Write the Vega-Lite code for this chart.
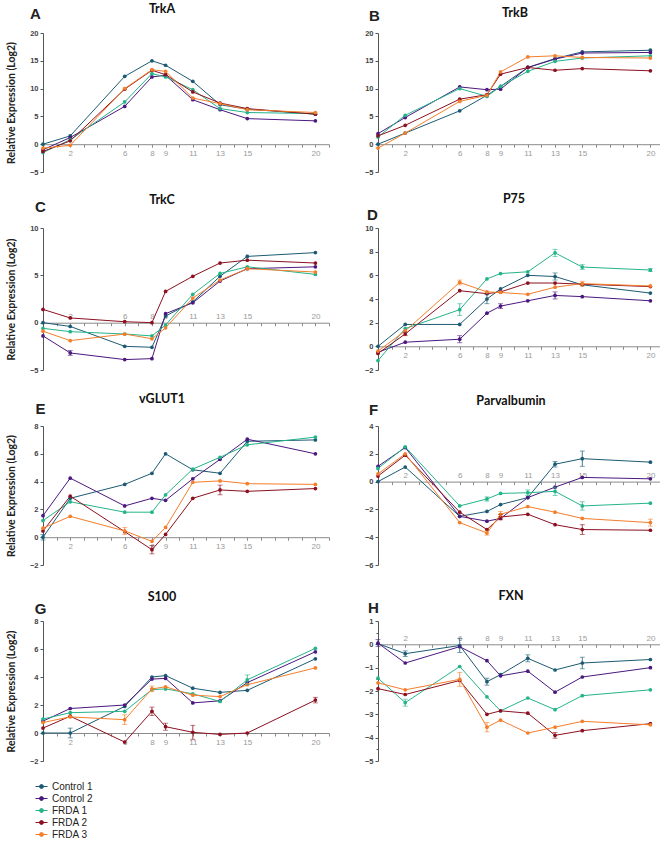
{
"$schema":"https://vega.github.io/schema/vega-lite/v6.json",
"padding":{"left":6,"top":3,"right":0,"bottom":0},
"config":{"view":{"stroke":null},"axis":{"grid":false},"title":{"font":"Lato","fontSize":12.5,"fontWeight":"bold","color":"#111","baseline":"middle","frame":"group","anchor":"middle"}},
"datasets":{"expr":[
{"g":"TrkA","s":"Control 1","d":0,"v":0},{"g":"TrkA","s":"Control 1","d":2,"v":1.5},{"g":"TrkA","s":"Control 1","d":6,"v":12.2},{"g":"TrkA","s":"Control 1","d":8,"v":15.0},{"g":"TrkA","s":"Control 1","d":9,"v":14.2},{"g":"TrkA","s":"Control 1","d":11,"v":11.3},{"g":"TrkA","s":"Control 1","d":13,"v":7.1},{"g":"TrkA","s":"Control 1","d":15,"v":6.3},{"g":"TrkA","s":"Control 1","d":20,"v":5.4},
{"g":"TrkA","s":"Control 2","d":0,"v":-1.0},{"g":"TrkA","s":"Control 2","d":2,"v":1.2},{"g":"TrkA","s":"Control 2","d":6,"v":6.8},{"g":"TrkA","s":"Control 2","d":8,"v":12.1},{"g":"TrkA","s":"Control 2","d":9,"v":12.4},{"g":"TrkA","s":"Control 2","d":11,"v":8.0},{"g":"TrkA","s":"Control 2","d":13,"v":6.2},{"g":"TrkA","s":"Control 2","d":15,"v":4.6},{"g":"TrkA","s":"Control 2","d":20,"v":4.2},
{"g":"TrkA","s":"FRDA 1","d":0,"v":-1.5},{"g":"TrkA","s":"FRDA 1","d":2,"v":0.8},{"g":"TrkA","s":"FRDA 1","d":6,"v":7.6},{"g":"TrkA","s":"FRDA 1","d":8,"v":12.7},{"g":"TrkA","s":"FRDA 1","d":9,"v":12.1},{"g":"TrkA","s":"FRDA 1","d":11,"v":9.8},{"g":"TrkA","s":"FRDA 1","d":13,"v":6.4},{"g":"TrkA","s":"FRDA 1","d":15,"v":5.7},{"g":"TrkA","s":"FRDA 1","d":20,"v":5.5},
{"g":"TrkA","s":"FRDA 2","d":0,"v":-1.3},{"g":"TrkA","s":"FRDA 2","d":2,"v":0.6},{"g":"TrkA","s":"FRDA 2","d":6,"v":9.9},{"g":"TrkA","s":"FRDA 2","d":8,"v":13.3},{"g":"TrkA","s":"FRDA 2","d":9,"v":12.5},{"g":"TrkA","s":"FRDA 2","d":11,"v":9.4},{"g":"TrkA","s":"FRDA 2","d":13,"v":7.4},{"g":"TrkA","s":"FRDA 2","d":15,"v":6.4},{"g":"TrkA","s":"FRDA 2","d":20,"v":5.4},
{"g":"TrkA","s":"FRDA 3","d":0,"v":-0.7},{"g":"TrkA","s":"FRDA 3","d":2,"v":-0.2},{"g":"TrkA","s":"FRDA 3","d":6,"v":10.0},{"g":"TrkA","s":"FRDA 3","d":8,"v":13.4},{"g":"TrkA","s":"FRDA 3","d":9,"v":13.1},{"g":"TrkA","s":"FRDA 3","d":11,"v":8.3},{"g":"TrkA","s":"FRDA 3","d":13,"v":7.3},{"g":"TrkA","s":"FRDA 3","d":15,"v":6.2},{"g":"TrkA","s":"FRDA 3","d":20,"v":5.7},

{"g":"TrkB","s":"Control 1","d":0,"v":0},{"g":"TrkB","s":"Control 1","d":2,"v":2.0},{"g":"TrkB","s":"Control 1","d":6,"v":6.0},{"g":"TrkB","s":"Control 1","d":8,"v":8.8},{"g":"TrkB","s":"Control 1","d":9,"v":10.4},{"g":"TrkB","s":"Control 1","d":11,"v":13.8},{"g":"TrkB","s":"Control 1","d":13,"v":15.4},{"g":"TrkB","s":"Control 1","d":15,"v":16.6},{"g":"TrkB","s":"Control 1","d":20,"v":16.9},
{"g":"TrkB","s":"Control 2","d":0,"v":1.9},{"g":"TrkB","s":"Control 2","d":2,"v":4.8},{"g":"TrkB","s":"Control 2","d":6,"v":10.3},{"g":"TrkB","s":"Control 2","d":8,"v":9.8},{"g":"TrkB","s":"Control 2","d":9,"v":9.9},{"g":"TrkB","s":"Control 2","d":11,"v":13.8},{"g":"TrkB","s":"Control 2","d":13,"v":15.3},{"g":"TrkB","s":"Control 2","d":15,"v":16.4},{"g":"TrkB","s":"Control 2","d":20,"v":16.5},
{"g":"TrkB","s":"FRDA 1","d":0,"v":1.3},{"g":"TrkB","s":"FRDA 1","d":2,"v":5.2},{"g":"TrkB","s":"FRDA 1","d":6,"v":10.0},{"g":"TrkB","s":"FRDA 1","d":8,"v":8.6},{"g":"TrkB","s":"FRDA 1","d":9,"v":10.4},{"g":"TrkB","s":"FRDA 1","d":11,"v":13.1},{"g":"TrkB","s":"FRDA 1","d":13,"v":14.9},{"g":"TrkB","s":"FRDA 1","d":15,"v":15.5},{"g":"TrkB","s":"FRDA 1","d":20,"v":15.9},
{"g":"TrkB","s":"FRDA 2","d":0,"v":1.5},{"g":"TrkB","s":"FRDA 2","d":2,"v":3.4},{"g":"TrkB","s":"FRDA 2","d":6,"v":8.1},{"g":"TrkB","s":"FRDA 2","d":8,"v":8.9},{"g":"TrkB","s":"FRDA 2","d":9,"v":12.6},{"g":"TrkB","s":"FRDA 2","d":11,"v":13.8},{"g":"TrkB","s":"FRDA 2","d":13,"v":13.3},{"g":"TrkB","s":"FRDA 2","d":15,"v":13.6},{"g":"TrkB","s":"FRDA 2","d":20,"v":13.2},
{"g":"TrkB","s":"FRDA 3","d":0,"v":-0.7},{"g":"TrkB","s":"FRDA 3","d":2,"v":2.0},{"g":"TrkB","s":"FRDA 3","d":6,"v":7.7},{"g":"TrkB","s":"FRDA 3","d":8,"v":8.8},{"g":"TrkB","s":"FRDA 3","d":9,"v":13.0},{"g":"TrkB","s":"FRDA 3","d":11,"v":15.7},{"g":"TrkB","s":"FRDA 3","d":13,"v":15.9},{"g":"TrkB","s":"FRDA 3","d":15,"v":15.6},{"g":"TrkB","s":"FRDA 3","d":20,"v":15.5},

{"g":"TrkC","s":"Control 1","d":0,"v":0},{"g":"TrkC","s":"Control 1","d":2,"v":-0.4},{"g":"TrkC","s":"Control 1","d":6,"v":-2.5},{"g":"TrkC","s":"Control 1","d":8,"v":-2.6},{"g":"TrkC","s":"Control 1","d":9,"v":0.7},{"g":"TrkC","s":"Control 1","d":11,"v":2.2},{"g":"TrkC","s":"Control 1","d":13,"v":4.9},{"g":"TrkC","s":"Control 1","d":15,"v":7.0},{"g":"TrkC","s":"Control 1","d":20,"v":7.4},
{"g":"TrkC","s":"Control 2","d":0,"v":-1.4},{"g":"TrkC","s":"Control 2","d":2,"v":-3.2,"e":0.25},{"g":"TrkC","s":"Control 2","d":6,"v":-3.9},{"g":"TrkC","s":"Control 2","d":8,"v":-3.8},{"g":"TrkC","s":"Control 2","d":9,"v":0.95},{"g":"TrkC","s":"Control 2","d":11,"v":2.1},{"g":"TrkC","s":"Control 2","d":13,"v":4.4},{"g":"TrkC","s":"Control 2","d":15,"v":5.7},{"g":"TrkC","s":"Control 2","d":20,"v":5.9},
{"g":"TrkC","s":"FRDA 1","d":0,"v":-0.6},{"g":"TrkC","s":"FRDA 1","d":2,"v":-0.95},{"g":"TrkC","s":"FRDA 1","d":6,"v":-1.2},{"g":"TrkC","s":"FRDA 1","d":8,"v":-1.4},{"g":"TrkC","s":"FRDA 1","d":9,"v":-0.25},{"g":"TrkC","s":"FRDA 1","d":11,"v":3.0},{"g":"TrkC","s":"FRDA 1","d":13,"v":5.2},{"g":"TrkC","s":"FRDA 1","d":15,"v":5.9},{"g":"TrkC","s":"FRDA 1","d":20,"v":5.1},
{"g":"TrkC","s":"FRDA 2","d":0,"v":1.4},{"g":"TrkC","s":"FRDA 2","d":2,"v":0.5},{"g":"TrkC","s":"FRDA 2","d":6,"v":0.1},{"g":"TrkC","s":"FRDA 2","d":8,"v":0.0},{"g":"TrkC","s":"FRDA 2","d":9,"v":3.3},{"g":"TrkC","s":"FRDA 2","d":11,"v":4.9},{"g":"TrkC","s":"FRDA 2","d":13,"v":6.3},{"g":"TrkC","s":"FRDA 2","d":15,"v":6.6},{"g":"TrkC","s":"FRDA 2","d":20,"v":6.3},
{"g":"TrkC","s":"FRDA 3","d":0,"v":-0.9},{"g":"TrkC","s":"FRDA 3","d":2,"v":-1.9},{"g":"TrkC","s":"FRDA 3","d":6,"v":-1.2},{"g":"TrkC","s":"FRDA 3","d":8,"v":-1.7},{"g":"TrkC","s":"FRDA 3","d":9,"v":-0.55},{"g":"TrkC","s":"FRDA 3","d":11,"v":2.6},{"g":"TrkC","s":"FRDA 3","d":13,"v":4.5},{"g":"TrkC","s":"FRDA 3","d":15,"v":5.7},{"g":"TrkC","s":"FRDA 3","d":20,"v":5.35},

{"g":"P75","s":"Control 1","d":0,"v":0},{"g":"P75","s":"Control 1","d":2,"v":1.85},{"g":"P75","s":"Control 1","d":6,"v":1.85},{"g":"P75","s":"Control 1","d":8,"v":4.0,"e":0.4},{"g":"P75","s":"Control 1","d":9,"v":4.85},{"g":"P75","s":"Control 1","d":11,"v":6.0},{"g":"P75","s":"Control 1","d":13,"v":5.9,"e":0.3},{"g":"P75","s":"Control 1","d":15,"v":5.2},{"g":"P75","s":"Control 1","d":20,"v":4.5},
{"g":"P75","s":"Control 2","d":0,"v":-0.5},{"g":"P75","s":"Control 2","d":2,"v":0.35},{"g":"P75","s":"Control 2","d":6,"v":0.6,"e":0.3},{"g":"P75","s":"Control 2","d":8,"v":2.8},{"g":"P75","s":"Control 2","d":9,"v":3.4,"e":0.2},{"g":"P75","s":"Control 2","d":11,"v":3.85},{"g":"P75","s":"Control 2","d":13,"v":4.3,"e":0.3},{"g":"P75","s":"Control 2","d":15,"v":4.2},{"g":"P75","s":"Control 2","d":20,"v":3.85},
{"g":"P75","s":"FRDA 1","d":0,"v":-1.2},{"g":"P75","s":"FRDA 1","d":2,"v":1.5},{"g":"P75","s":"FRDA 1","d":6,"v":3.1,"e":0.5},{"g":"P75","s":"FRDA 1","d":8,"v":5.7},{"g":"P75","s":"FRDA 1","d":9,"v":6.15},{"g":"P75","s":"FRDA 1","d":11,"v":6.3},{"g":"P75","s":"FRDA 1","d":13,"v":7.9,"e":0.3},{"g":"P75","s":"FRDA 1","d":15,"v":6.7,"e":0.2},{"g":"P75","s":"FRDA 1","d":20,"v":6.45,"e":0.12},
{"g":"P75","s":"FRDA 2","d":0,"v":-0.6},{"g":"P75","s":"FRDA 2","d":2,"v":1.05,"e":0.15},{"g":"P75","s":"FRDA 2","d":6,"v":4.7},{"g":"P75","s":"FRDA 2","d":8,"v":4.45},{"g":"P75","s":"FRDA 2","d":9,"v":4.6},{"g":"P75","s":"FRDA 2","d":11,"v":5.35},{"g":"P75","s":"FRDA 2","d":13,"v":5.35},{"g":"P75","s":"FRDA 2","d":15,"v":5.25},{"g":"P75","s":"FRDA 2","d":20,"v":5.05},
{"g":"P75","s":"FRDA 3","d":0,"v":-0.4},{"g":"P75","s":"FRDA 3","d":2,"v":1.3},{"g":"P75","s":"FRDA 3","d":6,"v":5.4,"e":0.2},{"g":"P75","s":"FRDA 3","d":8,"v":4.6},{"g":"P75","s":"FRDA 3","d":9,"v":4.55},{"g":"P75","s":"FRDA 3","d":11,"v":4.4},{"g":"P75","s":"FRDA 3","d":13,"v":5.0},{"g":"P75","s":"FRDA 3","d":15,"v":5.3,"e":0.2},{"g":"P75","s":"FRDA 3","d":20,"v":5.1},

{"g":"vGLUT1","s":"Control 1","d":0,"v":0,"e":0.2},{"g":"vGLUT1","s":"Control 1","d":2,"v":2.8},{"g":"vGLUT1","s":"Control 1","d":6,"v":3.8},{"g":"vGLUT1","s":"Control 1","d":8,"v":4.6},{"g":"vGLUT1","s":"Control 1","d":9,"v":6.0},{"g":"vGLUT1","s":"Control 1","d":11,"v":4.85},{"g":"vGLUT1","s":"Control 1","d":13,"v":4.6},{"g":"vGLUT1","s":"Control 1","d":15,"v":6.9},{"g":"vGLUT1","s":"Control 1","d":20,"v":7.0},
{"g":"vGLUT1","s":"Control 2","d":0,"v":1.55},{"g":"vGLUT1","s":"Control 2","d":2,"v":4.25},{"g":"vGLUT1","s":"Control 2","d":6,"v":2.25},{"g":"vGLUT1","s":"Control 2","d":8,"v":2.8},{"g":"vGLUT1","s":"Control 2","d":9,"v":2.65},{"g":"vGLUT1","s":"Control 2","d":11,"v":4.2},{"g":"vGLUT1","s":"Control 2","d":13,"v":5.6},{"g":"vGLUT1","s":"Control 2","d":15,"v":7.05},{"g":"vGLUT1","s":"Control 2","d":20,"v":6.0},
{"g":"vGLUT1","s":"FRDA 1","d":0,"v":1.2},{"g":"vGLUT1","s":"FRDA 1","d":2,"v":2.55},{"g":"vGLUT1","s":"FRDA 1","d":6,"v":1.8},{"g":"vGLUT1","s":"FRDA 1","d":8,"v":1.8},{"g":"vGLUT1","s":"FRDA 1","d":9,"v":3.05},{"g":"vGLUT1","s":"FRDA 1","d":11,"v":4.9},{"g":"vGLUT1","s":"FRDA 1","d":13,"v":5.75},{"g":"vGLUT1","s":"FRDA 1","d":15,"v":6.65},{"g":"vGLUT1","s":"FRDA 1","d":20,"v":7.2},
{"g":"vGLUT1","s":"FRDA 2","d":0,"v":0.45},{"g":"vGLUT1","s":"FRDA 2","d":2,"v":2.95},{"g":"vGLUT1","s":"FRDA 2","d":6,"v":0.4},{"g":"vGLUT1","s":"FRDA 2","d":8,"v":-0.9,"e":0.3},{"g":"vGLUT1","s":"FRDA 2","d":9,"v":0.2},{"g":"vGLUT1","s":"FRDA 2","d":11,"v":2.8},{"g":"vGLUT1","s":"FRDA 2","d":13,"v":3.4,"e":0.35},{"g":"vGLUT1","s":"FRDA 2","d":15,"v":3.3},{"g":"vGLUT1","s":"FRDA 2","d":20,"v":3.5},
{"g":"vGLUT1","s":"FRDA 3","d":0,"v":0.65},{"g":"vGLUT1","s":"FRDA 3","d":2,"v":1.5},{"g":"vGLUT1","s":"FRDA 3","d":6,"v":0.45,"e":0.25},{"g":"vGLUT1","s":"FRDA 3","d":8,"v":-0.3},{"g":"vGLUT1","s":"FRDA 3","d":9,"v":0.7},{"g":"vGLUT1","s":"FRDA 3","d":11,"v":3.95},{"g":"vGLUT1","s":"FRDA 3","d":13,"v":4.05},{"g":"vGLUT1","s":"FRDA 3","d":15,"v":3.85},{"g":"vGLUT1","s":"FRDA 3","d":20,"v":3.8},

{"g":"Parvalbumin","s":"Control 1","d":0,"v":0},{"g":"Parvalbumin","s":"Control 1","d":2,"v":1.05},{"g":"Parvalbumin","s":"Control 1","d":6,"v":-2.5},{"g":"Parvalbumin","s":"Control 1","d":8,"v":-2.15},{"g":"Parvalbumin","s":"Control 1","d":9,"v":-1.65},{"g":"Parvalbumin","s":"Control 1","d":11,"v":-1.15},{"g":"Parvalbumin","s":"Control 1","d":13,"v":1.25,"e":0.2},{"g":"Parvalbumin","s":"Control 1","d":15,"v":1.65,"e":0.55},{"g":"Parvalbumin","s":"Control 1","d":20,"v":1.4},
{"g":"Parvalbumin","s":"Control 2","d":0,"v":1.1},{"g":"Parvalbumin","s":"Control 2","d":2,"v":2.45},{"g":"Parvalbumin","s":"Control 2","d":6,"v":-2.5},{"g":"Parvalbumin","s":"Control 2","d":8,"v":-2.85},{"g":"Parvalbumin","s":"Control 2","d":9,"v":-2.65},{"g":"Parvalbumin","s":"Control 2","d":11,"v":-1.15},{"g":"Parvalbumin","s":"Control 2","d":13,"v":-0.4},{"g":"Parvalbumin","s":"Control 2","d":15,"v":0.3},{"g":"Parvalbumin","s":"Control 2","d":20,"v":0.2},
{"g":"Parvalbumin","s":"FRDA 1","d":0,"v":0.95},{"g":"Parvalbumin","s":"FRDA 1","d":2,"v":2.5},{"g":"Parvalbumin","s":"FRDA 1","d":6,"v":-1.75},{"g":"Parvalbumin","s":"FRDA 1","d":8,"v":-1.25,"e":0.15},{"g":"Parvalbumin","s":"FRDA 1","d":9,"v":-0.85},{"g":"Parvalbumin","s":"FRDA 1","d":11,"v":-0.8,"e":0.2},{"g":"Parvalbumin","s":"FRDA 1","d":13,"v":-0.7,"e":0.3},{"g":"Parvalbumin","s":"FRDA 1","d":15,"v":-1.75,"e":0.3},{"g":"Parvalbumin","s":"FRDA 1","d":20,"v":-1.55},
{"g":"Parvalbumin","s":"FRDA 2","d":0,"v":0.4},{"g":"Parvalbumin","s":"FRDA 2","d":2,"v":1.9},{"g":"Parvalbumin","s":"FRDA 2","d":6,"v":-2.2},{"g":"Parvalbumin","s":"FRDA 2","d":8,"v":-3.45},{"g":"Parvalbumin","s":"FRDA 2","d":9,"v":-2.55,"e":0.2},{"g":"Parvalbumin","s":"FRDA 2","d":11,"v":-2.35},{"g":"Parvalbumin","s":"FRDA 2","d":13,"v":-3.1},{"g":"Parvalbumin","s":"FRDA 2","d":15,"v":-3.45,"e":0.35},{"g":"Parvalbumin","s":"FRDA 2","d":20,"v":-3.5},
{"g":"Parvalbumin","s":"FRDA 3","d":0,"v":0.55},{"g":"Parvalbumin","s":"FRDA 3","d":2,"v":2.0},{"g":"Parvalbumin","s":"FRDA 3","d":6,"v":-2.95},{"g":"Parvalbumin","s":"FRDA 3","d":8,"v":-3.7,"e":0.15},{"g":"Parvalbumin","s":"FRDA 3","d":9,"v":-2.35,"e":0.2},{"g":"Parvalbumin","s":"FRDA 3","d":11,"v":-1.8},{"g":"Parvalbumin","s":"FRDA 3","d":13,"v":-2.2},{"g":"Parvalbumin","s":"FRDA 3","d":15,"v":-2.65},{"g":"Parvalbumin","s":"FRDA 3","d":20,"v":-2.95,"e":0.25},

{"g":"S100","s":"Control 1","d":0,"v":0},{"g":"S100","s":"Control 1","d":2,"v":0,"e":0.35},{"g":"S100","s":"Control 1","d":6,"v":1.9},{"g":"S100","s":"Control 1","d":8,"v":4.0},{"g":"S100","s":"Control 1","d":9,"v":4.1},{"g":"S100","s":"Control 1","d":11,"v":3.2},{"g":"S100","s":"Control 1","d":13,"v":2.9},{"g":"S100","s":"Control 1","d":15,"v":3.05},{"g":"S100","s":"Control 1","d":20,"v":5.3},
{"g":"S100","s":"Control 2","d":0,"v":0.85},{"g":"S100","s":"Control 2","d":2,"v":1.75},{"g":"S100","s":"Control 2","d":6,"v":2.0},{"g":"S100","s":"Control 2","d":8,"v":3.85},{"g":"S100","s":"Control 2","d":9,"v":3.9},{"g":"S100","s":"Control 2","d":11,"v":2.15},{"g":"S100","s":"Control 2","d":13,"v":2.3},{"g":"S100","s":"Control 2","d":15,"v":3.6},{"g":"S100","s":"Control 2","d":20,"v":5.8},
{"g":"S100","s":"FRDA 1","d":0,"v":1.0},{"g":"S100","s":"FRDA 1","d":2,"v":1.45},{"g":"S100","s":"FRDA 1","d":6,"v":1.55},{"g":"S100","s":"FRDA 1","d":8,"v":3.1},{"g":"S100","s":"FRDA 1","d":9,"v":3.15},{"g":"S100","s":"FRDA 1","d":11,"v":2.8},{"g":"S100","s":"FRDA 1","d":13,"v":2.25},{"g":"S100","s":"FRDA 1","d":15,"v":3.8,"e":0.35},{"g":"S100","s":"FRDA 1","d":20,"v":6.05},
{"g":"S100","s":"FRDA 2","d":0,"v":0.35},{"g":"S100","s":"FRDA 2","d":2,"v":1.2},{"g":"S100","s":"FRDA 2","d":6,"v":-0.65},{"g":"S100","s":"FRDA 2","d":8,"v":1.55,"e":0.3},{"g":"S100","s":"FRDA 2","d":9,"v":0.45,"e":0.25},{"g":"S100","s":"FRDA 2","d":11,"v":0.05,"e":0.5},{"g":"S100","s":"FRDA 2","d":13,"v":-0.1},{"g":"S100","s":"FRDA 2","d":15,"v":0.0},{"g":"S100","s":"FRDA 2","d":20,"v":2.35,"e":0.2},
{"g":"S100","s":"FRDA 3","d":0,"v":0.75},{"g":"S100","s":"FRDA 3","d":2,"v":1.15},{"g":"S100","s":"FRDA 3","d":6,"v":0.95,"e":0.35},{"g":"S100","s":"FRDA 3","d":8,"v":3.15,"e":0.2},{"g":"S100","s":"FRDA 3","d":9,"v":3.3},{"g":"S100","s":"FRDA 3","d":11,"v":2.7},{"g":"S100","s":"FRDA 3","d":13,"v":2.6},{"g":"S100","s":"FRDA 3","d":15,"v":3.45},{"g":"S100","s":"FRDA 3","d":20,"v":4.65},

{"g":"FXN","s":"Control 1","d":0,"v":0.03},{"g":"FXN","s":"Control 1","d":2,"v":-0.4,"e":0.12},{"g":"FXN","s":"Control 1","d":6,"v":-0.05,"e":0.3},{"g":"FXN","s":"Control 1","d":8,"v":-1.6,"e":0.15},{"g":"FXN","s":"Control 1","d":9,"v":-1.3},{"g":"FXN","s":"Control 1","d":11,"v":-0.6,"e":0.15},{"g":"FXN","s":"Control 1","d":13,"v":-1.1},{"g":"FXN","s":"Control 1","d":15,"v":-0.8,"e":0.25},{"g":"FXN","s":"Control 1","d":20,"v":-0.65},
{"g":"FXN","s":"Control 2","d":0,"v":0.05,"e":0.15},{"g":"FXN","s":"Control 2","d":2,"v":-0.8},{"g":"FXN","s":"Control 2","d":6,"v":-0.1},{"g":"FXN","s":"Control 2","d":8,"v":-0.7},{"g":"FXN","s":"Control 2","d":9,"v":-1.35},{"g":"FXN","s":"Control 2","d":11,"v":-1.15},{"g":"FXN","s":"Control 2","d":13,"v":-2.05},{"g":"FXN","s":"Control 2","d":15,"v":-1.4},{"g":"FXN","s":"Control 2","d":20,"v":-1.0},
{"g":"FXN","s":"FRDA 1","d":0,"v":-1.45},{"g":"FXN","s":"FRDA 1","d":2,"v":-2.5,"e":0.15},{"g":"FXN","s":"FRDA 1","d":6,"v":-0.95},{"g":"FXN","s":"FRDA 1","d":8,"v":-2.25},{"g":"FXN","s":"FRDA 1","d":9,"v":-2.85},{"g":"FXN","s":"FRDA 1","d":11,"v":-2.3},{"g":"FXN","s":"FRDA 1","d":13,"v":-2.8},{"g":"FXN","s":"FRDA 1","d":15,"v":-2.2},{"g":"FXN","s":"FRDA 1","d":20,"v":-1.95},
{"g":"FXN","s":"FRDA 2","d":0,"v":-1.9},{"g":"FXN","s":"FRDA 2","d":2,"v":-2.15},{"g":"FXN","s":"FRDA 2","d":6,"v":-1.55},{"g":"FXN","s":"FRDA 2","d":8,"v":-3.0},{"g":"FXN","s":"FRDA 2","d":9,"v":-2.85},{"g":"FXN","s":"FRDA 2","d":11,"v":-2.95},{"g":"FXN","s":"FRDA 2","d":13,"v":-3.9,"e":0.12},{"g":"FXN","s":"FRDA 2","d":15,"v":-3.7},{"g":"FXN","s":"FRDA 2","d":20,"v":-3.4},
{"g":"FXN","s":"FRDA 3","d":0,"v":-1.65},{"g":"FXN","s":"FRDA 3","d":2,"v":-1.95},{"g":"FXN","s":"FRDA 3","d":6,"v":-1.5,"e":0.3},{"g":"FXN","s":"FRDA 3","d":8,"v":-3.55,"e":0.2},{"g":"FXN","s":"FRDA 3","d":9,"v":-3.25},{"g":"FXN","s":"FRDA 3","d":11,"v":-3.8},{"g":"FXN","s":"FRDA 3","d":13,"v":-3.55},{"g":"FXN","s":"FRDA 3","d":15,"v":-3.3},{"g":"FXN","s":"FRDA 3","d":20,"v":-3.45}
]},
"data":{"name":"expr"},
"columns":2,
"spacing":{"row":56,"column":49},
"bounds":"flush",
"resolve":{"scale":{"y":"independent","x":"independent"}},
"concat":[
{"width":286,"height":139,"title":{"text":"TrkA","anchor":"middle","frame":"group","dx":-24,"offset":-9.5},"transform":[{"filter":"datum.g==='TrkA'"}],
 "encoding":{"x":{"field":"d","type":"quantitative","scale":{"domain":[0,21],"nice":false,"zero":false},"axis":{"orient":"bottom","offset":-27.8,"values":[0,1,2,3,4,5,6,7,8,9,10,11,12,13,14,15,16,17,18,19,20,21],"labelExpr":"indexof([2,6,8,9,11,13,15,20], datum.value) >= 0 ? datum.label : ''","labelOverlap":false,"labelBound":false,"labelFlush":false,"labelColor":"#9a9a9a","labelFont":"Liberation Sans","labelFontSize":8,"labelPadding":2,"tickColor":"#8a8a8a","tickSize":3,"domainColor":"#8a8a8a","title":null}},
  "color":{"field":"s","type":"nominal","scale":{"domain":["Control 1","Control 2","FRDA 1","FRDA 2","FRDA 3"],"range":["#1c5b73","#4b1880","#25b48a","#8b1020","#f57e2b"]},"legend":{"orient":"none","legendX":-8,"legendY":747,"title":null,"symbolType":"M-1,0H1M0.33,0A0.33,0.33 0 1,1 -0.33,0A0.33,0.33 0 1,1 0.33,0","symbolSize":144,"symbolStrokeWidth":1,"labelFont":"Liberation Sans","labelFontSize":10,"labelColor":"#222","rowPadding":0,"encode":{"symbols":{"update":{"fill":{"scale":"color","field":"value"},"stroke":{"scale":"color","field":"value"}}}}}}},
 "layer":[
  {"mark":{"type":"line","strokeWidth":1,"point":{"filled":true,"size":14}},"encoding":{"y":{"field":"v","type":"quantitative","scale":{"domain":[-5,20],"nice":false,"zero":false},"axis":{"values":[-5,0,5,10,15,20],"labelFont":"Liberation Sans","labelFontWeight":"bold","labelFontSize":7.5,"labelColor":"#444","labelPadding":2,"tickSize":3,"tickColor":"#555","domainColor":"#555","title":"Relative Expression (Log2)","titleFont":"Lato","titleFontSize":10.5,"titleFontWeight":"bold","titleColor":"#222","titlePadding":13}}}},
  {"transform":[{"filter":"datum.e > 0"}],"mark":{"type":"errorbar","ticks":true,"thickness":0.8},"encoding":{"y":{"field":"v","type":"quantitative","axis":null},"yError":{"field":"e"}}},
  {"mark":{"type":"point","opacity":0},"encoding":{"y":{"field":"v","type":"quantitative","axis":{"orient":"left","domain":false,"labels":false,"ticks":false,"title":"A","titleAngle":0,"titleX":-8,"titleY":-20,"titleFont":"Liberation Sans","titleFontSize":15,"titleFontWeight":"bold","titleColor":"#222","titleAlign":"center","titleBaseline":"middle"}}}}
 ],"resolve":{"axis":{"y":"independent"}}},
{"width":286,"height":139,"title":{"text":"TrkB","anchor":"middle","frame":"group","dx":-6,"offset":-11.5},"transform":[{"filter":"datum.g==='TrkB'"}],
 "encoding":{"x":{"field":"d","type":"quantitative","scale":{"domain":[0,21],"nice":false,"zero":false},"axis":{"orient":"bottom","offset":-27.8,"values":[0,1,2,3,4,5,6,7,8,9,10,11,12,13,14,15,16,17,18,19,20,21],"labelExpr":"indexof([2,6,8,9,11,13,15,20], datum.value) >= 0 ? datum.label : ''","labelOverlap":false,"labelBound":false,"labelFlush":false,"labelColor":"#9a9a9a","labelFont":"Liberation Sans","labelFontSize":8,"labelPadding":2,"tickColor":"#8a8a8a","tickSize":3,"domainColor":"#8a8a8a","title":null}},
  "color":{"field":"s","type":"nominal"}},
 "layer":[
  {"mark":{"type":"line","strokeWidth":1,"point":{"filled":true,"size":14}},"encoding":{"y":{"field":"v","type":"quantitative","scale":{"domain":[-5,20],"nice":false,"zero":false},"axis":{"values":[-5,0,5,10,15,20],"labelFont":"Liberation Sans","labelFontWeight":"bold","labelFontSize":7.5,"labelColor":"#444","labelPadding":2,"tickSize":3,"tickColor":"#555","domainColor":"#555","title":null}}}},
  {"transform":[{"filter":"datum.e > 0"}],"mark":{"type":"errorbar","ticks":true,"thickness":0.8},"encoding":{"y":{"field":"v","type":"quantitative","axis":null},"yError":{"field":"e"}}},
  {"mark":{"type":"point","opacity":0},"encoding":{"y":{"field":"v","type":"quantitative","axis":{"orient":"left","domain":false,"labels":false,"ticks":false,"title":"B","titleAngle":0,"titleX":-4,"titleY":-18,"titleFont":"Liberation Sans","titleFontSize":15,"titleFontWeight":"bold","titleColor":"#222","titleAlign":"center","titleBaseline":"middle"}}}}
 ],"resolve":{"axis":{"y":"independent"}}},
{"width":286,"height":142,"title":{"text":"TrkC","anchor":"middle","frame":"group","dx":-24,"offset":-7.5},"transform":[{"filter":"datum.g==='TrkC'"}],
 "encoding":{"x":{"field":"d","type":"quantitative","scale":{"domain":[0,21],"nice":false,"zero":false},"axis":{"orient":"top","offset":-94.7,"values":[0,1,2,3,4,5,6,7,8,9,10,11,12,13,14,15,16,17,18,19,20,21],"labelExpr":"indexof([2,6,8,9,11,13,15,20], datum.value) >= 0 ? datum.label : ''","labelOverlap":false,"labelBound":false,"labelFlush":false,"labelColor":"#9a9a9a","labelFont":"Liberation Sans","labelFontSize":8,"labelPadding":5,"tickColor":"#8a8a8a","tickSize":-3,"domainColor":"#8a8a8a","title":null}},
  "color":{"field":"s","type":"nominal"}},
 "layer":[
  {"mark":{"type":"line","strokeWidth":1,"point":{"filled":true,"size":14}},"encoding":{"y":{"field":"v","type":"quantitative","scale":{"domain":[-5,10],"nice":false,"zero":false},"axis":{"values":[-5,0,5,10],"labelFont":"Liberation Sans","labelFontWeight":"bold","labelFontSize":7.5,"labelColor":"#444","labelPadding":2,"tickSize":3,"tickColor":"#555","domainColor":"#555","title":"Relative Expression (Log2)","titleFont":"Lato","titleFontSize":10.5,"titleFontWeight":"bold","titleColor":"#222","titlePadding":13}}}},
  {"transform":[{"filter":"datum.e > 0"}],"mark":{"type":"errorbar","ticks":true,"thickness":0.8},"encoding":{"y":{"field":"v","type":"quantitative","axis":null},"yError":{"field":"e"}}},
  {"mark":{"type":"point","opacity":0},"encoding":{"y":{"field":"v","type":"quantitative","axis":{"orient":"left","domain":false,"labels":false,"ticks":false,"title":"C","titleAngle":0,"titleX":-3,"titleY":-22,"titleFont":"Liberation Sans","titleFontSize":15,"titleFontWeight":"bold","titleColor":"#222","titleAlign":"center","titleBaseline":"middle"}}}}
 ],"resolve":{"axis":{"y":"independent"}}},
{"width":286,"height":142,"title":{"text":"P75","anchor":"middle","frame":"group","dx":-7,"offset":1.5},"transform":[{"filter":"datum.g==='P75'"}],
 "encoding":{"x":{"field":"d","type":"quantitative","scale":{"domain":[0,21],"nice":false,"zero":false},"axis":{"orient":"bottom","offset":-23.7,"values":[0,1,2,3,4,5,6,7,8,9,10,11,12,13,14,15,16,17,18,19,20,21],"labelExpr":"indexof([2,6,8,9,11,13,15,20], datum.value) >= 0 ? datum.label : ''","labelOverlap":false,"labelBound":false,"labelFlush":false,"labelColor":"#9a9a9a","labelFont":"Liberation Sans","labelFontSize":8,"labelPadding":2,"tickColor":"#8a8a8a","tickSize":3,"domainColor":"#8a8a8a","title":null}},
  "color":{"field":"s","type":"nominal"}},
 "layer":[
  {"mark":{"type":"line","strokeWidth":1,"point":{"filled":true,"size":14}},"encoding":{"y":{"field":"v","type":"quantitative","scale":{"domain":[-2,10],"nice":false,"zero":false},"axis":{"values":[-2,0,2,4,6,8,10],"labelFont":"Liberation Sans","labelFontWeight":"bold","labelFontSize":7.5,"labelColor":"#444","labelPadding":2,"tickSize":3,"tickColor":"#555","domainColor":"#555","title":null}}}},
  {"transform":[{"filter":"datum.e > 0"}],"mark":{"type":"errorbar","ticks":true,"thickness":0.8},"encoding":{"y":{"field":"v","type":"quantitative","axis":null},"yError":{"field":"e"}}},
  {"mark":{"type":"point","opacity":0},"encoding":{"y":{"field":"v","type":"quantitative","axis":{"orient":"left","domain":false,"labels":false,"ticks":false,"title":"D","titleAngle":0,"titleX":-6,"titleY":-14,"titleFont":"Liberation Sans","titleFontSize":15,"titleFontWeight":"bold","titleColor":"#222","titleAlign":"center","titleBaseline":"middle"}}}}
 ],"resolve":{"axis":{"y":"independent"}}},
{"width":286,"height":139,"title":{"text":"vGLUT1","anchor":"middle","frame":"group","dx":-24,"offset":-4.5},"transform":[{"filter":"datum.g==='vGLUT1'"}],
 "encoding":{"x":{"field":"d","type":"quantitative","scale":{"domain":[0,21],"nice":false,"zero":false},"axis":{"orient":"bottom","offset":-27.8,"values":[0,1,2,3,4,5,6,7,8,9,10,11,12,13,14,15,16,17,18,19,20,21],"labelExpr":"indexof([2,6,8,9,11,13,15,20], datum.value) >= 0 ? datum.label : ''","labelOverlap":false,"labelBound":false,"labelFlush":false,"labelColor":"#9a9a9a","labelFont":"Liberation Sans","labelFontSize":8,"labelPadding":2,"tickColor":"#8a8a8a","tickSize":3,"domainColor":"#8a8a8a","title":null}},
  "color":{"field":"s","type":"nominal"}},
 "layer":[
  {"mark":{"type":"line","strokeWidth":1,"point":{"filled":true,"size":14}},"encoding":{"y":{"field":"v","type":"quantitative","scale":{"domain":[-2,8],"nice":false,"zero":false},"axis":{"values":[-2,0,2,4,6,8],"labelFont":"Liberation Sans","labelFontWeight":"bold","labelFontSize":7.5,"labelColor":"#444","labelPadding":2,"tickSize":3,"tickColor":"#555","domainColor":"#555","title":"Relative Expression (Log2)","titleFont":"Lato","titleFontSize":10.5,"titleFontWeight":"bold","titleColor":"#222","titlePadding":13}}}},
  {"transform":[{"filter":"datum.e > 0"}],"mark":{"type":"errorbar","ticks":true,"thickness":0.8},"encoding":{"y":{"field":"v","type":"quantitative","axis":null},"yError":{"field":"e"}}},
  {"mark":{"type":"point","opacity":0},"encoding":{"y":{"field":"v","type":"quantitative","axis":{"orient":"left","domain":false,"labels":false,"ticks":false,"title":"E","titleAngle":0,"titleX":-3,"titleY":-18,"titleFont":"Liberation Sans","titleFontSize":15,"titleFontWeight":"bold","titleColor":"#222","titleAlign":"center","titleBaseline":"middle"}}}}
 ],"resolve":{"axis":{"y":"independent"}}},
{"width":286,"height":139,"title":{"text":"Parvalbumin","anchor":"middle","frame":"group","dx":-10,"offset":-5.5},"transform":[{"filter":"datum.g==='Parvalbumin'"}],
 "encoding":{"x":{"field":"d","type":"quantitative","scale":{"domain":[0,21],"nice":false,"zero":false},"axis":{"orient":"top","offset":-55.6,"values":[0,1,2,3,4,5,6,7,8,9,10,11,12,13,14,15,16,17,18,19,20,21],"labelExpr":"indexof([2,6,8,9,11,13,15,20], datum.value) >= 0 ? datum.label : ''","labelOverlap":false,"labelBound":false,"labelFlush":false,"labelColor":"#9a9a9a","labelFont":"Liberation Sans","labelFontSize":8,"labelPadding":5,"tickColor":"#8a8a8a","tickSize":-3,"domainColor":"#8a8a8a","title":null}},
  "color":{"field":"s","type":"nominal"}},
 "layer":[
  {"mark":{"type":"line","strokeWidth":1,"point":{"filled":true,"size":14}},"encoding":{"y":{"field":"v","type":"quantitative","scale":{"domain":[-6,4],"nice":false,"zero":false},"axis":{"values":[-6,-4,-2,0,2,4],"labelFont":"Liberation Sans","labelFontWeight":"bold","labelFontSize":7.5,"labelColor":"#444","labelPadding":2,"tickSize":3,"tickColor":"#555","domainColor":"#555","title":null}}}},
  {"transform":[{"filter":"datum.e > 0"}],"mark":{"type":"errorbar","ticks":true,"thickness":0.8},"encoding":{"y":{"field":"v","type":"quantitative","axis":null},"yError":{"field":"e"}}},
  {"mark":{"type":"point","opacity":0},"encoding":{"y":{"field":"v","type":"quantitative","axis":{"orient":"left","domain":false,"labels":false,"ticks":false,"title":"F","titleAngle":0,"titleX":-5,"titleY":-17,"titleFont":"Liberation Sans","titleFontSize":15,"titleFontWeight":"bold","titleColor":"#222","titleAlign":"center","titleBaseline":"middle"}}}}
 ],"resolve":{"axis":{"y":"independent"}}},
{"width":286,"height":140,"title":{"text":"S100","anchor":"middle","frame":"group","dx":-24,"offset":-2.5},"transform":[{"filter":"datum.g==='S100'"}],
 "encoding":{"x":{"field":"d","type":"quantitative","scale":{"domain":[0,21],"nice":false,"zero":false},"axis":{"orient":"bottom","offset":-28,"values":[0,1,2,3,4,5,6,7,8,9,10,11,12,13,14,15,16,17,18,19,20,21],"labelExpr":"indexof([2,6,8,9,11,13,15,20], datum.value) >= 0 ? datum.label : ''","labelOverlap":false,"labelBound":false,"labelFlush":false,"labelColor":"#9a9a9a","labelFont":"Liberation Sans","labelFontSize":8,"labelPadding":2,"tickColor":"#8a8a8a","tickSize":3,"domainColor":"#8a8a8a","title":null}},
  "color":{"field":"s","type":"nominal"}},
 "layer":[
  {"mark":{"type":"line","strokeWidth":1,"point":{"filled":true,"size":14}},"encoding":{"y":{"field":"v","type":"quantitative","scale":{"domain":[-2,8],"nice":false,"zero":false},"axis":{"values":[-2,0,2,4,6,8],"labelFont":"Liberation Sans","labelFontWeight":"bold","labelFontSize":7.5,"labelColor":"#444","labelPadding":2,"tickSize":3,"tickColor":"#555","domainColor":"#555","title":"Relative Expression (Log2)","titleFont":"Lato","titleFontSize":10.5,"titleFontWeight":"bold","titleColor":"#222","titlePadding":13}}}},
  {"transform":[{"filter":"datum.e > 0"}],"mark":{"type":"errorbar","ticks":true,"thickness":0.8},"encoding":{"y":{"field":"v","type":"quantitative","axis":null},"yError":{"field":"e"}}},
  {"mark":{"type":"point","opacity":0},"encoding":{"y":{"field":"v","type":"quantitative","axis":{"orient":"left","domain":false,"labels":false,"ticks":false,"title":"G","titleAngle":0,"titleX":-3,"titleY":-13,"titleFont":"Liberation Sans","titleFontSize":15,"titleFontWeight":"bold","titleColor":"#222","titleAlign":"center","titleBaseline":"middle"}}}}
 ],"resolve":{"axis":{"y":"independent"}}},
{"width":286,"height":140,"title":{"text":"FXN","anchor":"middle","frame":"group","dx":-10,"offset":-2.5},"transform":[{"filter":"datum.g==='FXN'"}],
 "encoding":{"x":{"field":"d","type":"quantitative","scale":{"domain":[0,21],"nice":false,"zero":false},"axis":{"orient":"top","offset":-23.3,"values":[0,1,2,3,4,5,6,7,8,9,10,11,12,13,14,15,16,17,18,19,20,21],"labelExpr":"indexof([2,6,8,9,11,13,15,20], datum.value) >= 0 ? datum.label : ''","labelOverlap":false,"labelBound":false,"labelFlush":false,"labelColor":"#9a9a9a","labelFont":"Liberation Sans","labelFontSize":8,"labelPadding":5,"tickColor":"#8a8a8a","tickSize":-3,"domainColor":"#8a8a8a","title":null}},
  "color":{"field":"s","type":"nominal"}},
 "layer":[
  {"mark":{"type":"line","strokeWidth":1,"point":{"filled":true,"size":14}},"encoding":{"y":{"field":"v","type":"quantitative","scale":{"domain":[-5,1],"nice":false,"zero":false},"axis":{"values":[-5,-4,-3,-2,-1,0,1],"labelFont":"Liberation Sans","labelFontWeight":"bold","labelFontSize":7.5,"labelColor":"#444","labelPadding":2,"tickSize":3,"tickColor":"#555","domainColor":"#555","title":null}}}},
  {"transform":[{"filter":"datum.e > 0"}],"mark":{"type":"errorbar","ticks":true,"thickness":0.8},"encoding":{"y":{"field":"v","type":"quantitative","axis":null},"yError":{"field":"e"}}},
  {"mark":{"type":"point","opacity":0},"encoding":{"y":{"field":"v","type":"quantitative","axis":{"orient":"left","domain":false,"labels":false,"ticks":true,"tickSize":2,"tickColor":"#555","values":[-4.5,-3.5,-2.5,-1.5,-0.5,0.5],"title":"H","titleAngle":0,"titleX":-5,"titleY":-14,"titleFont":"Liberation Sans","titleFontSize":15,"titleFontWeight":"bold","titleColor":"#222","titleAlign":"center","titleBaseline":"middle"}}}}
 ],"resolve":{"axis":{"y":"independent"}}}
]
}
